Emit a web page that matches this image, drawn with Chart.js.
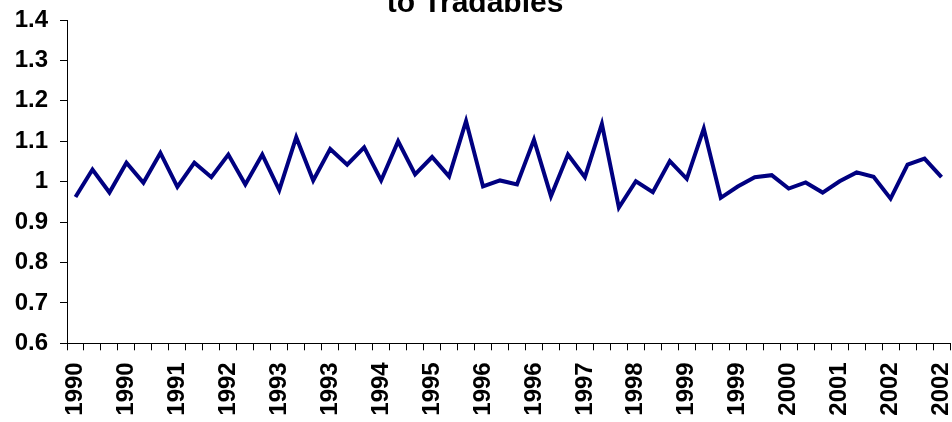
<!DOCTYPE html>
<html>
<head>
<meta charset="utf-8">
<script src="https://cdn.jsdelivr.net/npm/chart.js@4/dist/chart.umd.min.js"></script>
<style>
    html, body { margin: 0; padding: 0; background: #fff; overflow: hidden; }
    #wrap { position: relative; top: -13px; width: 952px; height: 435px; }
</style>
</head>
<body>
<div id="wrap"><canvas id="chart"></canvas></div>
<script>
// quarterly points, one year label per quarter
const years = [
    '1990', '1990', '1990', '1990', '1991', '1991', '1991', '1991',
    '1992', '1992', '1992', '1992', '1993', '1993', '1993', '1993',
    '1994', '1994', '1994', '1994', '1995', '1995', '1995', '1995',
    '1996', '1996', '1996', '1996', '1997', '1997', '1997', '1997',
    '1998', '1998', '1998', '1998', '1999', '1999', '1999', '1999',
    '2000', '2000', '2000', '2000', '2001', '2001', '2001', '2001',
    '2002', '2002', '2002', '2002'
];

const ratio = [
    0.962, 1.030, 0.973, 1.047, 0.997, 1.071, 0.987, 1.047, 1.011, 1.067,
    0.993, 1.067, 0.979, 1.110, 1.003, 1.081, 1.042, 1.085, 1.003, 1.100,
    1.018, 1.061, 1.013, 1.150, 0.988, 1.003, 0.993, 1.104, 0.964, 1.067,
    1.011, 1.143, 0.936, 1.001, 0.974, 1.051, 1.007, 1.131, 0.960, 0.988,
    1.011, 1.016, 0.983, 0.998, 0.973, 1.001, 1.023, 1.012, 0.958, 1.042,
    1.057, 1.011
];

const yTicks = [0.6, 0.7, 0.8, 0.9, 1, 1.1, 1.2, 1.3, 1.4];
const titleText = 'to Tradables';

const fontFamily = "'Liberation Sans', Arial, sans-serif";

const chartData = {
    labels: years,
    datasets: [{
        data: ratio,
        borderColor: '#000080',
        backgroundColor: '#000080',
        borderWidth: 4,
        pointRadius: 0,
        tension: 0,
        fill: false
    }]
};

const config = {
    type: 'line',
    data: chartData,
    options: {
        responsive: true,
        maintainAspectRatio: false,
        animation: false,
        layout: { padding: { left: 0, right: 2, top: 0, bottom: 0 } },
        plugins: {
            legend: { display: false },
            tooltip: { enabled: false },
            title: {
                display: true,
                text: titleText,
                color: '#000',
                font: { family: fontFamily, size: 30, weight: 'bold', lineHeight: 1.1 },
                padding: { top: 0, bottom: 0 }
            }
        },
        scales: {
            x: {
                type: 'category',
                offset: true,
                grid: {
                    offset: true,
                    drawOnChartArea: false,
                    drawTicks: true,
                    tickLength: 7,
                    color: '#000',
                    lineWidth: 1
                },
                border: { display: true, color: '#000', width: 1 },
                ticks: {
                    autoSkip: false,
                    minRotation: 90,
                    maxRotation: 90,
                    padding: 12,
                    color: '#000',
                    font: { family: fontFamily, size: 24, weight: 'bold' },
                    callback: function (value, index) {
                        return index % 3 == 0 ? this.getLabelForValue(value) : '';
                    }
                },
                afterFit: function (scale) {
                    scale.height = 78.7;
                    // labels may hang past the ends, the plot still runs edge to edge
                    scale.paddingLeft = 0;
                    scale.paddingRight = 0;
                }
            },
            y: {
                min: 0.6,
                max: 1.4,
                grid: {
                    drawOnChartArea: false,
                    drawTicks: true,
                    tickLength: 7,
                    color: '#000',
                    lineWidth: 1
                },
                border: { display: true, color: '#000', width: 1 },
                afterBuildTicks: function (scale) {
                    scale.ticks = yTicks.map(function (v) { return { value: v }; });
                },
                ticks: {
                    padding: 12,
                    color: '#000',
                    font: { family: fontFamily, size: 24, weight: 'bold' },
                    callback: function (value) {
                        return String(Number(value.toFixed(1)));
                    }
                },
                afterFit: function (scale) {
                    scale.width = 67;
                }
            }
        }
    }
};

var chart = new Chart(document.getElementById('chart'), config);
</script>
</body>
</html>
